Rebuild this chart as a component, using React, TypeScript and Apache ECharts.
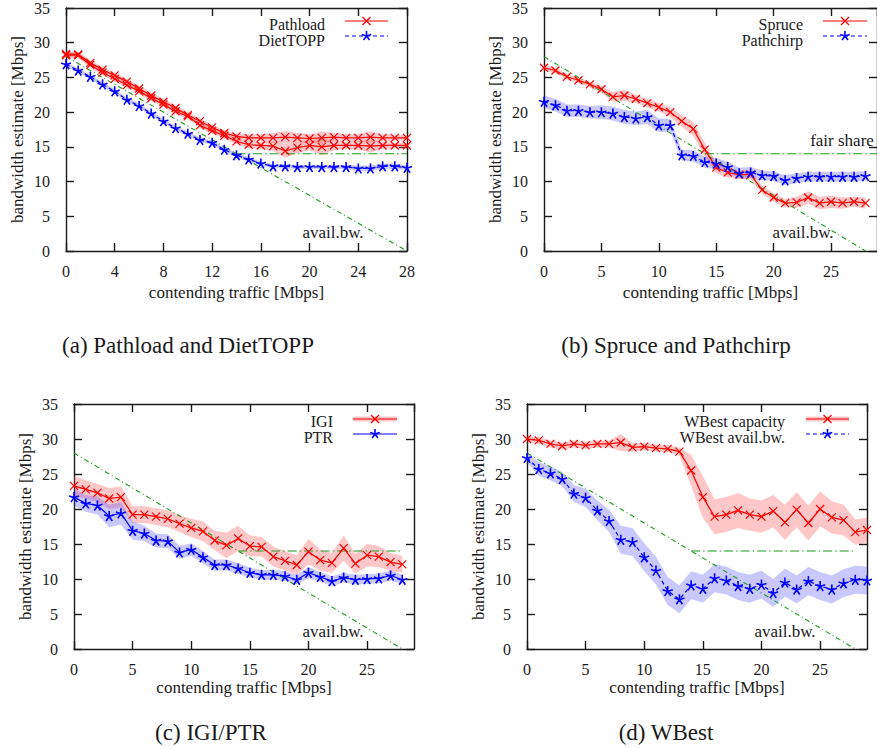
import React, { useEffect, useRef } from "react";
import * as echarts from "echarts";

// ---------- data ----------
const traffic28 = [0,1,2,3,4,5,6,7,8,9,10,11,12,13,14,15,16,17,18,19,20,21,22,23,24,25,26,27,28];
const traffic29 = [0,1,2,3,4,5,6,7,8,9,10,11,12,13,14,15,16,17,18,19,20,21,22,23,24,25,26,27,28,29];

const yTicks = [0, 5, 10, 15, 20, 25, 30, 35];

// (a) Pathload (upper / lower) and DietTOPP
const pathloadHigh = [28.4,28.3,27.1,26.1,25.3,24.4,23.4,22.4,21.5,20.6,19.6,18.7,17.8,17.0,16.5,16.3,16.3,16.3,16.4,16.3,16.2,16.3,16.4,16.3,16.3,16.4,16.3,16.3,16.3];
const pathloadHighSpread = [0.4,0.4,0.4,0.4,0.4,0.4,0.4,0.4,0.4,0.4,0.4,0.4,0.4,0.4,0.4,0.5,0.5,0.7,0.9,0.7,0.6,0.9,0.6,0.5,0.6,0.8,0.5,0.4,0.4];
const pathloadLow = [28.2,28.2,26.8,25.7,24.8,23.9,23.0,22.0,21.1,20.1,19.4,18.1,17.3,16.6,15.8,15.3,15.2,15.1,14.4,14.9,15.2,15.0,15.2,15.2,15.2,15.1,15.2,15.2,15.2];
const pathloadLowSpread = [0.4,0.4,0.4,0.4,0.4,0.4,0.4,0.4,0.4,0.4,0.4,0.4,0.4,0.4,0.4,0.5,0.5,0.7,1.0,0.8,0.7,1.2,0.7,0.5,0.6,0.9,0.5,0.4,0.4];
const dietTopp = [26.9,26.0,25.1,24.0,23.0,21.8,20.9,19.8,18.7,17.7,16.9,16.0,15.6,14.6,13.8,13.2,12.6,12.2,12.2,12.1,12.1,12.1,12.1,12.1,11.9,11.9,12.2,12.2,12.0];
const dietToppSpread = [0.3,0.3,0.3,0.3,0.3,0.3,0.3,0.3,0.3,0.3,0.3,0.3,0.3,0.3,0.3,0.3,0.3,0.3,0.3,0.3,0.3,0.3,0.3,0.3,0.4,0.4,0.4,0.4,0.3];

// (b) Spruce and Pathchirp
const spruce = [26.4,26.0,25.1,24.6,24.0,23.3,22.2,22.4,21.9,21.3,20.7,20.0,18.7,17.6,14.6,12.0,11.3,11.0,11.0,8.8,7.7,6.9,7.0,7.7,6.9,7.1,6.9,7.1,6.9];
const spruceSpread = [0.4,0.4,0.4,0.4,0.4,0.5,0.7,0.8,0.6,0.6,0.6,0.7,0.8,1.0,1.0,0.8,0.7,0.6,0.6,0.6,0.6,0.6,0.8,0.9,0.9,0.9,0.8,0.7,0.8];
const pathchirp = [21.5,21.0,20.2,20.2,20.0,20.0,19.8,19.3,19.1,19.3,18.1,18.1,13.8,13.7,12.8,12.6,12.1,11.2,11.3,10.9,10.8,10.2,10.5,10.7,10.7,10.7,10.7,10.7,10.8];
const pathchirpSpread = [0.9,0.9,0.9,0.9,0.9,1.0,1.0,1.0,1.0,1.0,1.0,0.9,0.8,0.8,0.8,0.8,0.8,0.8,0.8,0.7,0.7,0.7,0.7,0.7,0.7,0.7,0.7,0.7,0.7];

// (c) IGI / PTR
const igi = [23.3,22.8,22.3,21.5,21.7,19.2,19.2,18.9,18.6,17.9,17.3,16.8,15.5,14.8,15.8,14.7,14.6,13.2,12.6,12.0,13.9,12.7,12.3,14.4,12.2,13.4,13.2,12.4,12.1];
const igiSpread = [1.4,1.3,1.3,1.5,1.5,1.2,1.2,1.2,1.2,1.2,1.3,1.4,1.4,1.8,1.8,1.5,1.4,1.4,1.4,1.4,1.8,1.5,1.4,1.8,1.4,1.6,1.5,1.3,1.2];
const ptr = [21.7,20.8,20.5,19.0,19.4,16.9,16.5,15.5,15.4,13.8,14.2,13.1,12.0,12.0,11.5,10.9,10.6,10.6,10.4,9.9,10.9,10.3,9.7,10.2,9.9,10.0,10.1,10.5,9.9];
const ptrSpread = [1.2,1.2,1.3,1.6,1.6,1.3,1.1,1.0,1.0,0.9,0.9,0.9,0.8,0.8,0.8,0.7,0.7,0.7,0.7,0.7,0.8,0.7,0.7,0.7,0.7,0.7,0.7,0.7,0.7];

// (d) WBest
const wbestCapacity = [30.0,29.8,29.3,29.0,29.3,29.1,29.3,29.3,29.5,28.8,28.9,28.7,28.6,28.2,25.5,21.7,18.9,19.2,19.8,19.2,18.9,19.7,18.1,19.9,18.0,20.0,18.8,18.4,16.7,17.0];
const wbestCapacitySpread = [0.4,0.5,0.5,0.5,0.5,0.5,0.5,0.5,1.2,0.6,0.5,0.5,0.5,0.6,2.2,3.0,2.5,2.5,2.5,2.3,2.3,2.3,2.5,2.5,2.5,2.5,2.3,2.2,1.8,1.8];
const wbestAvail = [27.3,25.7,25.1,24.3,22.2,21.6,19.8,18.3,15.6,15.3,13.1,11.2,8.3,7.1,9.1,8.6,10.1,9.8,9.0,8.6,9.2,8.0,9.5,8.5,9.7,9.0,8.5,9.4,9.9,9.8];
const wbestAvailSpread = [0.6,1.0,1.0,1.0,1.2,1.3,1.4,1.6,2.0,2.0,2.0,2.0,2.0,2.0,2.0,2.0,2.0,2.0,2.0,2.0,2.0,2.0,2.0,2.0,2.0,2.0,2.0,2.0,2.0,2.0];

// reference lines
const availBwX = [0, 28];
const availBwY = [28, 0];
const fairShareX = [14, 28];
const fairShareXWide = [14, 29];
const fairShareY = [14, 14];

// ---------- style ----------
const FONT = "'Liberation Serif', 'DejaVu Serif', serif";
const INK = "#1a1a1a";
const RED = "#ff0000";
const BLUE = "#0000ff";
const GREEN = "#1f9a1f";
const RED_BAND = "rgba(255,70,70,0.3)";
const BLUE_BAND = "rgba(60,60,255,0.28)";
const CROSS = "path://M0,0L10,10M10,0L0,10";
const STAR = "path://M5,5L5,0M5,5L9.76,3.45M5,5L7.94,9.05M5,5L2.06,9.05M5,5L0.24,3.45M5,5L5,5.8";

const grids = [
  { left: 66, top: 5, width: 341, height: 246 },
  { left: 544, top: 5, width: 340, height: 246 },
  { left: 74, top: 404, width: 340, height: 245 },
  { left: 527, top: 404, width: 340, height: 245 },
];
const xMaxes = [28, 29, 29, 29];
const xIntervals = [4, 5, 5, 5];
const xNameGaps = [33, 33, 30, 30];

const pair = (xs: number[], ys: number[]) => xs.map((x, i) => [x, ys[i]]);

function band(g: number, xs: number[], ys: number[], spread: number[], color: string) {
  return {
    type: "custom",
    xAxisIndex: g * 2,
    yAxisIndex: g * 2,
    silent: true,
    z: 1,
    data: xs.map((x, i) => [x, ys[i] - spread[i], ys[i] + spread[i]]),
    encode: { x: 0, y: [1, 2] },
    renderItem: (params: any, api: any) => {
      if (params.dataIndex !== 0) return null;
      const top = xs.map((x, i) => api.coord([x, ys[i] + spread[i]]));
      const bottom = xs.map((x, i) => api.coord([x, ys[i] - spread[i]])).reverse();
      return { type: "polygon", shape: { points: top.concat(bottom) }, style: { fill: color, stroke: null } };
    },
  };
}

function line(g: number, name: string, xs: number[], ys: number[], color: string, symbol: string, dashed: boolean) {
  const isStar = symbol === STAR;
  return {
    type: "line",
    name,
    xAxisIndex: g * 2,
    yAxisIndex: g * 2,
    data: pair(xs, ys),
    symbol,
    symbolSize: isStar ? 10 : 8,
    showSymbol: true,
    showAllSymbol: true,
    z: 3,
    lineStyle: { color, width: 1.2, type: dashed ? [4, 3] : "solid" },
    itemStyle: { color: "none", borderColor: color, borderWidth: isStar ? 1.6 : 1.2 },
  };
}

function refLine(g: number, xs: number[], ys: number[], dash: number[]) {
  return {
    type: "line",
    xAxisIndex: g * 2,
    yAxisIndex: g * 2,
    data: pair(xs, ys),
    symbol: "none",
    silent: true,
    z: 2,
    lineStyle: { color: GREEN, width: 1.1, type: dash },
  };
}

const axisLineStyle = { color: INK, width: 1.4 };

function axesFor(g: number) {
  const xb = {
    type: "value", gridIndex: g, position: "bottom", min: 0, max: xMaxes[g], interval: xIntervals[g],
    axisLine: { show: true, onZero: false, lineStyle: axisLineStyle },
    axisTick: { show: true, inside: true, length: 8, lineStyle: axisLineStyle },
    splitLine: { show: false },
    axisLabel: { show: true, margin: 12, showMaxLabel: xMaxes[g] % xIntervals[g] === 0, fontFamily: FONT, fontSize: 16, color: INK },
    name: "contending traffic [Mbps]", nameLocation: "middle", nameGap: xNameGaps[g],
    nameTextStyle: { fontFamily: FONT, fontSize: 17, color: INK },
  };
  const xt = {
    type: "value", gridIndex: g, position: "top", min: 0, max: xMaxes[g], interval: xIntervals[g],
    axisLine: { show: true, onZero: false, lineStyle: axisLineStyle },
    axisTick: { show: true, inside: true, length: 8, lineStyle: axisLineStyle },
    splitLine: { show: false }, axisLabel: { show: false },
  };
  const yl = {
    type: "value", gridIndex: g, position: "left", min: yTicks[0], max: yTicks[yTicks.length - 1], interval: 5,
    axisLine: { show: true, onZero: false, lineStyle: axisLineStyle },
    axisTick: { show: true, inside: true, length: 8, lineStyle: axisLineStyle },
    splitLine: { show: false },
    axisLabel: { show: true, margin: 16, padding: [10, 0, 0, 0], fontFamily: FONT, fontSize: 16, color: INK },
    name: "bandwidth estimate [Mbps]", nameLocation: "middle", nameGap: 40,
    nameTextStyle: { fontFamily: FONT, fontSize: 17, color: INK },
  };
  const yr = {
    type: "value", gridIndex: g, position: "right", min: 0, max: 35, interval: 5,
    axisLine: { show: true, onZero: false, lineStyle: axisLineStyle },
    axisTick: { show: true, inside: true, length: 8, lineStyle: axisLineStyle },
    splitLine: { show: false }, axisLabel: { show: false },
  };
  return { x: [xb, xt], y: [yl, yr] };
}

function textEl(x: number, y: number, text: string, size: number, align = "center") {
  return {
    type: "text", x, y, silent: true, z: 10,
    style: { text, fill: INK, fontFamily: FONT, fontSize: size, align, verticalAlign: "middle" },
  };
}

function markerEls(cx: number, cy: number, kind: string, color: string) {
  if (kind === "cross") {
    const r = 4;
    const st = { stroke: color, lineWidth: 1.2 };
    return [
      { type: "line", shape: { x1: cx - r, y1: cy - r, x2: cx + r, y2: cy + r }, style: st, z: 11 },
      { type: "line", shape: { x1: cx + r, y1: cy - r, x2: cx - r, y2: cy + r }, style: st, z: 11 },
    ];
  }
  const r = 5;
  const st = { stroke: color, lineWidth: 1.6 };
  const els: any[] = [];
  for (let k = 0; k < 5; k++) {
    const a = -Math.PI / 2 + (k * 2 * Math.PI) / 5;
    els.push({ type: "line", shape: { x1: cx, y1: cy, x2: cx + r * Math.cos(a), y2: cy + r * Math.sin(a) }, style: st, z: 11 });
  }
  return els;
}

function legendEntry(textRight: number, textY: number, label: string, x1: number, x2: number, ly: number,
  color: string, dashed: boolean, kind: string, halo: string | null) {
  const els: any[] = [textEl(textRight, textY, label, 16, "right")];
  if (halo) {
    els.push({ type: "rect", shape: { x: x1, y: ly - 2.5, width: x2 - x1, height: 5 }, style: { fill: halo }, z: 10 });
  }
  els.push({
    type: "line", shape: { x1, y1: ly, x2, y2: ly }, z: 11,
    style: { stroke: color, lineWidth: 1.2, lineDash: dashed ? [4, 3] : null },
  });
  return els.concat(markerEls((x1 + x2) / 2, ly, kind, color));
}

export default function App() {
  const ref = useRef<HTMLDivElement>(null);
  useEffect(() => {
    if (!ref.current) return;
    const chart = echarts.init(ref.current, null, { renderer: "svg" });
    const xAxis: any[] = [];
    const yAxis: any[] = [];
    for (let g = 0; g < 4; g++) {
      const a = axesFor(g);
      xAxis.push(...a.x);
      yAxis.push(...a.y);
    }
    const series: any[] = [
      // (a)
      band(0, traffic28, pathloadHigh, pathloadHighSpread, RED_BAND),
      band(0, traffic28, pathloadLow, pathloadLowSpread, RED_BAND),
      band(0, traffic28, dietTopp, dietToppSpread, BLUE_BAND),
      refLine(0, availBwX, availBwY, [5, 3, 1, 3]),
      refLine(0, fairShareX, fairShareY, [9, 3, 1.5, 3]),
      line(0, "Pathload", traffic28, pathloadHigh, RED, CROSS, false),
      line(0, "Pathload (low)", traffic28, pathloadLow, RED, CROSS, false),
      line(0, "DietTOPP", traffic28, dietTopp, BLUE, STAR, true),
      // (b)
      band(1, traffic28, spruce, spruceSpread, RED_BAND),
      band(1, traffic28, pathchirp, pathchirpSpread, BLUE_BAND),
      refLine(1, availBwX, availBwY, [5, 3, 1, 3]),
      refLine(1, fairShareXWide, fairShareY, [9, 3, 1.5, 3]),
      line(1, "Spruce", traffic28, spruce, RED, CROSS, false),
      line(1, "Pathchirp", traffic28, pathchirp, BLUE, STAR, true),
      // (c)
      band(2, traffic28, igi, igiSpread, RED_BAND),
      band(2, traffic28, ptr, ptrSpread, BLUE_BAND),
      refLine(2, availBwX, availBwY, [5, 3, 1, 3]),
      refLine(2, fairShareX, fairShareY, [9, 3, 1.5, 3]),
      line(2, "IGI", traffic28, igi, RED, CROSS, false),
      line(2, "PTR", traffic28, ptr, BLUE, STAR, false),
      // (d)
      band(3, traffic29, wbestCapacity, wbestCapacitySpread, RED_BAND),
      band(3, traffic29, wbestAvail, wbestAvailSpread, BLUE_BAND),
      refLine(3, availBwX, availBwY, [5, 3, 1, 3]),
      refLine(3, fairShareX, fairShareY, [9, 3, 1.5, 3]),
      line(3, "WBest capacity", traffic29, wbestCapacity, RED, CROSS, false),
      line(3, "WBest avail.bw.", traffic29, wbestAvail, BLUE, STAR, true),
    ];

    const graphic: any[] = [
      textEl(188, 345, "(a) Pathload and DietTOPP", 23),
      textEl(676, 345, "(b) Spruce and Pathchirp", 23),
      textEl(211, 732, "(c) IGI/PTR", 23),
      textEl(666, 732, "(d) WBest", 23),
      textEl(333, 232, "avail.bw.", 17),
      textEl(803, 232, "avail.bw.", 17),
      textEl(842, 140, "fair share", 17),
      textEl(333, 631, "avail.bw.", 17),
      textEl(785, 631, "avail.bw.", 17),
      ...legendEntry(325, 24, "Pathload", 345, 388, 21, RED, false, "cross", null),
      ...legendEntry(325, 40, "DietTOPP", 345, 388, 36, BLUE, true, "star", null),
      ...legendEntry(803, 24, "Spruce", 823, 867, 21, RED, false, "cross", null),
      ...legendEntry(803, 40, "Pathchirp", 823, 867, 36, BLUE, true, "star", null),
      ...legendEntry(333, 421, "IGI", 353, 397, 419, RED, false, "cross", RED_BAND),
      ...legendEntry(333, 437, "PTR", 353, 397, 434, BLUE, false, "star", null),
      ...legendEntry(785, 421, "WBest capacity", 806, 849, 419, RED, false, "cross", RED_BAND),
      ...legendEntry(785, 437, "WBest avail.bw.", 806, 849, 434, BLUE, true, "star", null),
    ];

    chart.setOption({
      animation: false,
      backgroundColor: "#ffffff",
      textStyle: { fontFamily: FONT },
      grid: grids.map((g) => ({ ...g, containLabel: false })),
      xAxis,
      yAxis,
      series,
      graphic,
    });
    return () => chart.dispose();
  }, []);
  return <div ref={ref} style={{ position: "fixed", left: 0, top: 0, width: 877, height: 749 }} />;
}
